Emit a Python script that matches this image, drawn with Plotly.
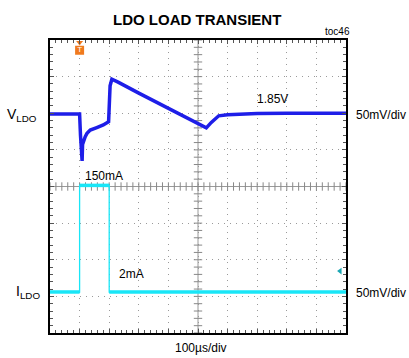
import numpy as np
import plotly.graph_objects as go

# Time in divisions (100us/div), amplitude in divisions
v_t = [0, 0.5, 1.0, 1.03, 1.06, 1.085, 1.10, 1.13, 1.19, 1.25, 1.36, 1.58, 1.8, 1.98, 2.0, 2.03, 2.09, 2.3, 3.0, 4.0, 5.0, 5.28, 5.45, 5.7, 6.0, 6.5, 7.0, 8.0, 9.0, 10.0]
v_y = [5.98, 5.98, 5.98, 5.4, 4.9, 4.70, 5.15, 5.25, 5.36, 5.45, 5.54, 5.61, 5.68, 5.77, 6.2, 6.75, 6.93, 6.85, 6.55, 6.13, 5.72, 5.60, 5.75, 5.93, 5.96, 5.98, 5.99, 6.0, 6.0, 6.0]

i_t = [0, 1.0, 1.0, 2.0, 2.0, 10.0]
i_y = [1.12, 1.12, 4.03, 4.03, 1.12, 1.12]

XR = [0, 10]
YR = [0, 8]
minor_x = np.arange(0, 10.001, 0.2)
minor_y = np.arange(0, 8.001, 0.2)

BLUE = "#1e1ee8"
CYAN = "#19e6f7"
FONT = "Liberation Sans, Arial, sans-serif"

# flat (non-vertical) parts of the current trace, drawn thicker like the noisy scope band
flat_t, flat_y = [], []
for k in range(len(i_t) - 1):
    if i_t[k + 1] != i_t[k]:
        flat_t += [i_t[k], i_t[k + 1], None]
        flat_y += [i_y[k], i_y[k + 1], None]

fig = go.Figure()

# center cross lines with ticks
fig.add_trace(go.Scatter(x=[0, 10], y=[4, 4], mode="lines", line=dict(color="#9a9a9a", width=1), hoverinfo="skip"))
fig.add_trace(go.Scatter(x=[5, 5], y=[0, 8], mode="lines", line=dict(color="#9a9a9a", width=1), hoverinfo="skip"))
fig.add_trace(go.Scatter(x=minor_x, y=[4] * len(minor_x), mode="markers",
                         marker=dict(symbol="line-ns", size=6, line=dict(color="#888", width=1)), hoverinfo="skip"))
fig.add_trace(go.Scatter(x=[5] * len(minor_y), y=minor_y, mode="markers",
                         marker=dict(symbol="line-ew", size=6, line=dict(color="#888", width=1)), hoverinfo="skip"))

# waveforms
fig.add_trace(go.Scatter(x=i_t, y=i_y, mode="lines", line=dict(color=CYAN, width=1.3)))
fig.add_trace(go.Scatter(x=flat_t, y=flat_y, mode="lines", line=dict(color=CYAN, width=3.5), connectgaps=False))
fig.add_trace(go.Scatter(x=v_t, y=v_y, mode="lines", line=dict(color=BLUE, width=3.5)))

# trigger marker
fig.add_trace(go.Scatter(x=[1.0], y=[7.93], mode="markers",
                         marker=dict(symbol="triangle-down", size=6, color="#f07a1e"), hoverinfo="skip"))
fig.add_trace(go.Scatter(x=[1.0], y=[7.72], mode="markers+text", text=["T"], textposition="middle center",
                         textfont=dict(color="white", size=8, family=FONT),
                         marker=dict(symbol="square", size=9, color="#f07a1e"), hoverinfo="skip"))
# ground level arrow
fig.add_trace(go.Scatter(x=[9.8], y=[1.69], mode="markers",
                         marker=dict(symbol="triangle-left", size=6, color="#1aa6b4"), hoverinfo="skip"))

ax_common = dict(showline=True, linecolor="black", linewidth=2, mirror="allticks",
                 ticks="inside", ticklen=4, tickcolor="#555", showticklabels=False,
                 showgrid=True, gridcolor="#9a9a9a", griddash="1px,5px", gridwidth=1,
                 zeroline=False, fixedrange=True,
                 minor=dict(ticks="inside", ticklen=3, tickcolor="#555", showgrid=False))

fig.update_xaxes(range=XR, dtick=1, tick0=0, minor_dtick=0.2, **ax_common)
fig.update_yaxes(range=YR, dtick=1, tick0=0, minor_dtick=0.2, **ax_common)

ann = []
def a(text, x, y, size=12, **kw):
    # x, y given in division units; converted to paper fractions
    fam = kw.pop("family", FONT)
    ann.append(dict(text=text, x=(x - XR[0]) / (XR[1] - XR[0]), y=(y - YR[0]) / (YR[1] - YR[0]),
                    xref="paper", yref="paper", showarrow=False, xanchor="center", yanchor="middle",
                    font=dict(family=fam, size=size, color="black"), **kw))

a("<b>LDO LOAD TRANSIENT</b>", 4.97, 8.55, size=15)
a("toc46", 9.7, 8.22, size=10)
a("V<sub>LDO</sub>", -0.95, 5.95, size=14)
a("I<sub>LDO</sub>", -0.75, 1.12, size=14)
a("50mV/div", 11.19, 5.95, size=12)
a("50mV/div", 11.19, 1.09, size=12)
a("1.85V", 7.51, 6.39, size=12)
a("150mA", 1.81, 4.30, size=12)
a("2mA", 2.76, 1.61, size=12)
a("100µs/div", 5.11, -0.42, size=12)

fig.update_layout(width=409, height=358, margin=dict(l=50, r=63, t=40, b=25),
                  paper_bgcolor="white", plot_bgcolor="white", showlegend=False,
                  annotations=ann)

fig.write_html("out.html", config={"displayModeBar": False},
               post_script="document.body.style.margin='0';document.body.style.overflow='hidden';")
